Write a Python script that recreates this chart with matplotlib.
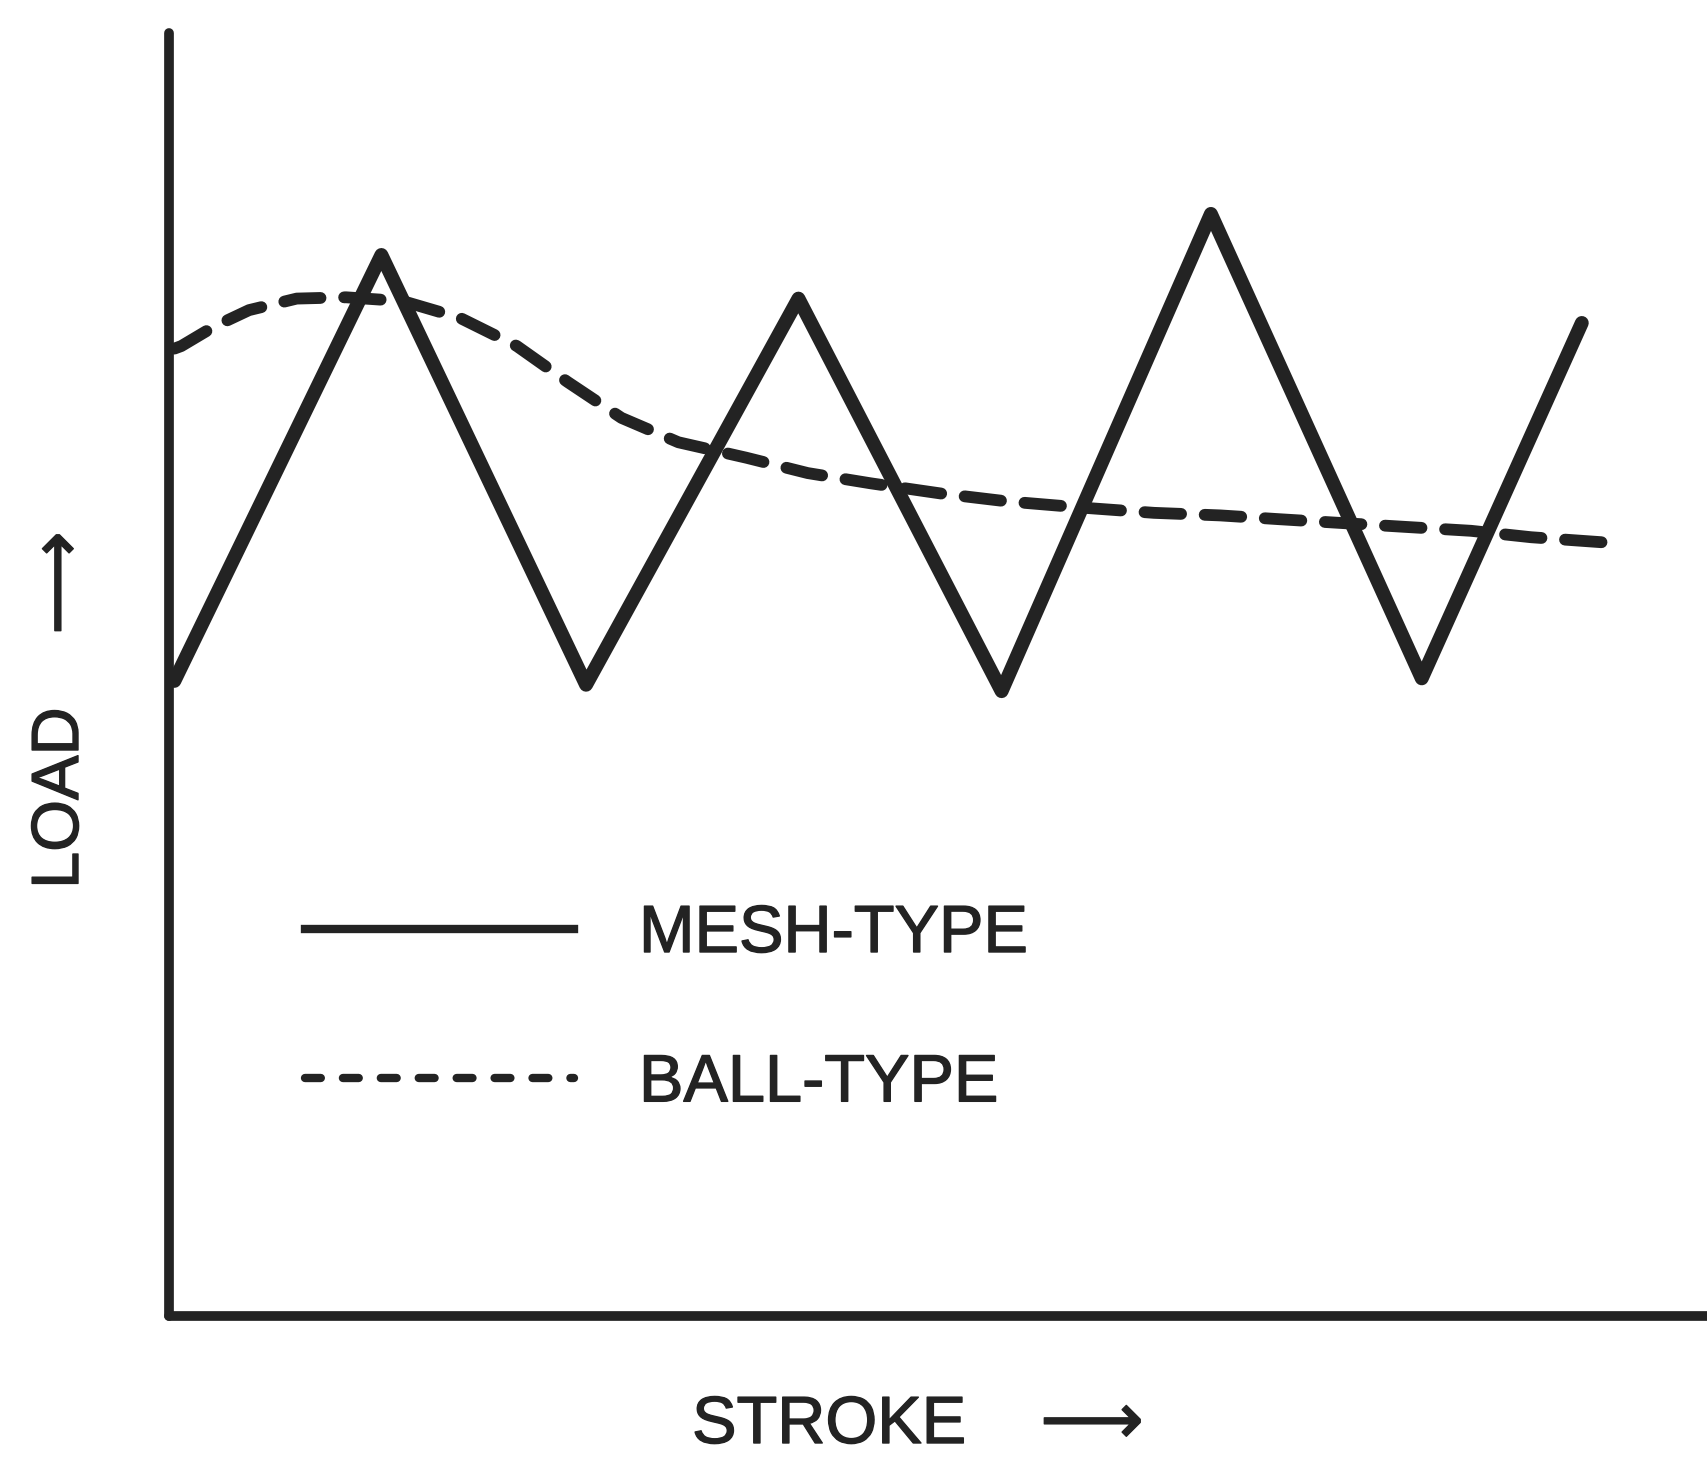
import matplotlib.pyplot as plt
import matplotlib.patheffects as pe
from matplotlib.lines import Line2D

# mesh-type load: straight zigzag between peaks and troughs
mesh_stroke = [0.35, 13.8, 27.1, 40.9, 54.1, 67.7, 81.4, 91.8]
mesh_load = [49.5, 82.7, 49.2, 79.3, 48.7, 85.9, 49.7, 77.4]

# ball-type load: early hump, then a slow decline
ball_stroke = [0.35, 0.8, 2.9, 5.2, 8.3, 11.5, 15.2, 18.9, 22.6, 25.9, 29.4,
               33.1, 37.5, 41.5, 45.6, 50.2, 54.4, 59.4, 64.0, 68.3, 72.2,
               76.3, 80.4, 84.6, 88.5, 93.2]
ball_load = [75.4, 75.6, 77.1, 78.4, 79.3, 79.4, 79.1, 77.8, 75.6, 72.8, 70.0,
             68.1, 66.9, 65.7, 64.9, 64.1, 63.5, 63.0, 62.6, 62.4, 62.1,
             61.8, 61.5, 61.2, 60.7, 60.3]

labels = ["MESH-TYPE", "BALL-TYPE"]
ink = "#232323"
fonts = ["Liberation Sans", "DejaVu Sans"]
fsize = 48
heavy = [pe.withStroke(linewidth=1.0, foreground=ink)]

fig = plt.figure(figsize=(17.08, 14.57), dpi=100)
ax = fig.add_axes([169 / 1708, 141 / 1457, 1 - 169 / 1708, (1316 - 33) / 1457])
ax.set_xlim(0, 100)
ax.set_ylim(0, 100)

ax.plot(mesh_stroke, mesh_load, color=ink, lw=10, solid_joinstyle="round",
        solid_capstyle="round", clip_on=False)
ax.plot(ball_stroke, ball_load, color=ink, lw=8.5, dashes=(3.1, 2.0),
        dash_capstyle="round", dash_joinstyle="round", clip_on=False)

for side in ["top", "right"]:
    ax.spines[side].set_visible(False)
for side in ["left", "bottom"]:
    ax.spines[side].set_linewidth(7)
    ax.spines[side].set_color(ink)
    ax.spines[side].set_capstyle("round")
ax.set_xticks([])
ax.set_yticks([])

handles = [
    Line2D([], [], color=ink, lw=6),
    Line2D([], [], color=ink, lw=6, dashes=(1.9, 2.65), dash_capstyle="round"),
]
leg = ax.legend(handles, labels, loc="upper left",
                bbox_to_anchor=(305 / 1708, 1 - 904 / 1457),
                bbox_transform=fig.transFigure, frameon=False,
                prop={"family": fonts, "size": fsize},
                handlelength=4.03, handletextpad=0.98, labelspacing=1.31,
                borderpad=0, borderaxespad=0)
for t in leg.get_texts():
    t.set_color(ink)
    t.set_path_effects(heavy)

# axis captions with their arrows
fig.text(829 / 1708, 1 - 1426 / 1457, "STROKE", ha="center", va="center",
         fontsize=fsize, color=ink, family=fonts, path_effects=heavy)
fig.text(1092 / 1708, 1 - 1425 / 1457, "\u27f6", ha="center", va="center",
         fontsize=52, color=ink, family=fonts, path_effects=heavy)
fig.text(61 / 1708, 1 - 798 / 1457, "LOAD", ha="center", va="center",
         rotation=90, fontsize=fsize, color=ink, family=fonts, path_effects=heavy)
fig.text(62 / 1708, 1 - 583 / 1457, "\u27f6", ha="center", va="center",
         rotation=90, fontsize=52, color=ink, family=fonts, path_effects=heavy)

fig.savefig("out.png", dpi=100, facecolor="white")
